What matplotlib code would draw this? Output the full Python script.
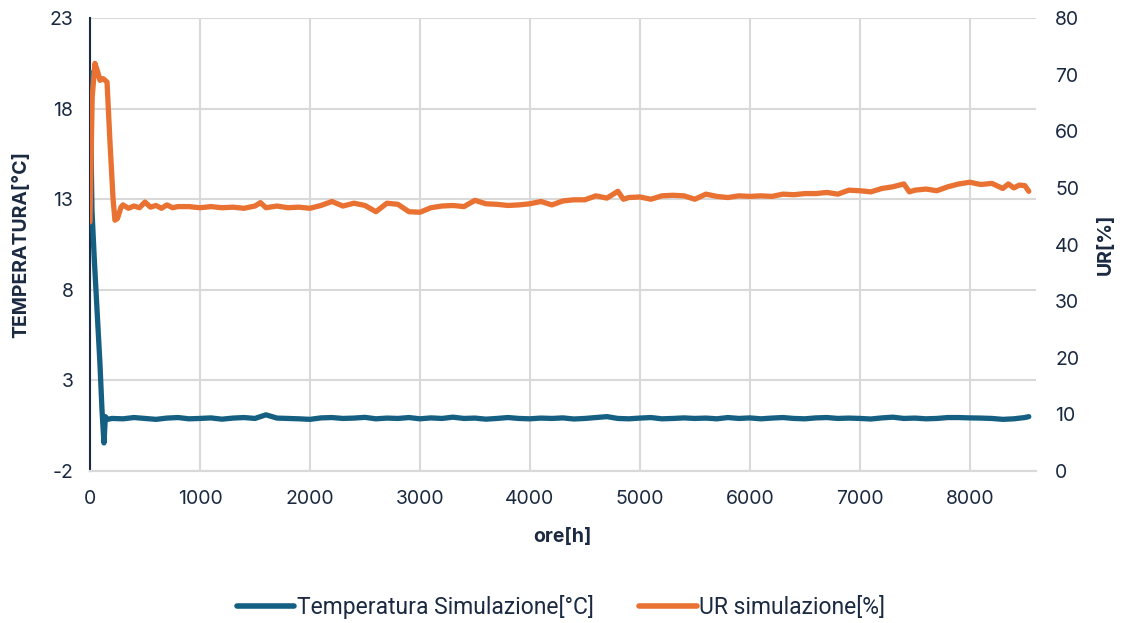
import matplotlib.pyplot as plt
from matplotlib.lines import Line2D

# temperatura simulazione [°C]
hours_temp = [0, 18, 40, 64, 90, 109, 127, 140, 160, 200,
              300, 400, 500, 600, 700, 800, 900, 1000, 1100, 1200,
              1300, 1400, 1500, 1600, 1700, 1800, 1900, 2000, 2100, 2200,
              2300, 2400, 2500, 2600, 2700, 2800, 2900, 3000, 3100, 3200,
              3300, 3400, 3500, 3600, 3700, 3800, 3900, 4000, 4100, 4200,
              4300, 4400, 4500, 4600, 4700, 4800, 4900, 5000, 5100, 5200,
              5300, 5400, 5500, 5600, 5700, 5800, 5900, 6000, 6100, 6200,
              6300, 6400, 6500, 6600, 6700, 6800, 6900, 7000, 7100, 7200,
              7300, 7400, 7500, 7600, 7700, 7800, 7900, 8000, 8100, 8200,
              8300, 8400, 8500, 8536]
temp = [20.0, 12.4, 9.6, 6.9, 4.0, 1.4, -0.45, 1.0, 0.85, 0.9,
        0.88, 0.95, 0.9, 0.85, 0.92, 0.95, 0.88, 0.9, 0.93, 0.86,
        0.92, 0.95, 0.9, 1.1, 0.92, 0.9, 0.88, 0.85, 0.93, 0.95,
        0.9, 0.92, 0.96, 0.88, 0.92, 0.9, 0.95, 0.88, 0.93, 0.9,
        0.97, 0.9, 0.92, 0.86, 0.9, 0.95, 0.9, 0.88, 0.92, 0.9,
        0.93, 0.87, 0.9, 0.95, 1.0, 0.9, 0.88, 0.92, 0.95, 0.88,
        0.9, 0.93, 0.9, 0.92, 0.88, 0.95, 0.9, 0.93, 0.88, 0.92,
        0.95, 0.9, 0.88, 0.93, 0.95, 0.9, 0.92, 0.9, 0.87, 0.93,
        0.97, 0.9, 0.92, 0.88, 0.9, 0.95, 0.95, 0.93, 0.92, 0.9,
        0.85, 0.88, 0.95, 1.0]

# UR simulazione [%]
hours_ur = [0, 20, 45, 70, 91, 120, 155, 182, 210, 227, 250, 282,
            300, 350, 400, 450, 500, 550, 600, 650, 700, 750, 800, 900, 1000, 1100, 1200,
            1300, 1400, 1500, 1550, 1600, 1700, 1800, 1900, 2000, 2100, 2200,
            2300, 2400, 2500, 2600, 2700, 2800, 2900, 3000, 3100, 3200,
            3300, 3400, 3500, 3600, 3700, 3800, 3900, 4000, 4100, 4200,
            4300, 4400, 4500, 4600, 4700, 4800, 4850, 4900, 5000, 5100, 5200,
            5300, 5400, 5500, 5600, 5700, 5800, 5900, 6000, 6100, 6200,
            6300, 6400, 6500, 6600, 6700, 6800, 6900, 7000, 7100, 7200,
            7300, 7400, 7450, 7500, 7600, 7700, 7800, 7900, 8000, 8100, 8200,
            8300, 8350, 8400, 8450, 8500, 8536]
ur = [44.0, 66.0, 72.0, 70.5, 69.0, 69.3, 68.7, 58.0, 48.0, 44.3, 44.6, 46.6,
      47.0, 46.4, 46.8, 46.5, 47.5, 46.6, 46.9, 46.4, 47.0, 46.5, 46.7, 46.7, 46.5, 46.7, 46.5,
      46.6, 46.4, 46.8, 47.4, 46.5, 46.8, 46.5, 46.6, 46.4, 46.9, 47.6,
      46.8, 47.3, 46.9, 45.8, 47.3, 47.1, 45.8, 45.7, 46.5, 46.8,
      46.9, 46.7, 47.8, 47.2, 47.1, 46.9, 47.0, 47.2, 47.6, 47.0,
      47.7, 47.9, 47.9, 48.6, 48.2, 49.4, 48.0, 48.3, 48.4, 48.0, 48.6,
      48.7, 48.6, 48.0, 48.9, 48.5, 48.3, 48.6, 48.5, 48.6, 48.5,
      48.9, 48.8, 49.0, 49.0, 49.2, 48.9, 49.6, 49.5, 49.3, 49.9,
      50.2, 50.7, 49.3, 49.6, 49.8, 49.5, 50.2, 50.7, 51.0, 50.6, 50.8,
      49.9, 50.7, 50.0, 50.5, 50.4, 49.4]

temp_ticks = [-2, 3, 8, 13, 18, 23]
ur_ticks = [0, 10, 20, 30, 40, 50, 60, 70, 80]
hour_ticks = [0, 1000, 2000, 3000, 4000, 5000, 6000, 7000, 8000]

BLUE = '#156082'
ORANGE = '#E97132'
TEXT = '#1b2a41'
GRID = '#d9d9d9'

plt.rcParams['font.family'] = ['Inter', 'DejaVu Sans']
plt.rcParams['axes.unicode_minus'] = False

fig = plt.figure(figsize=(11.22, 6.23), dpi=100)
ax = fig.add_axes([0.0802, 0.244, 0.843, 0.727])
ax2 = ax.twinx()

ax.plot(hours_temp, temp, color=BLUE, lw=3.8, solid_capstyle='round', solid_joinstyle='round', zorder=3)
ax2.plot(hours_ur, ur, color=ORANGE, lw=3.8, solid_capstyle='round', solid_joinstyle='round', zorder=3)

ax.set_xlim(0, 8600)
ax.set_ylim(-2, 23)
ax2.set_ylim(0, 80)
ax.set_xticks(hour_ticks)
ax.set_yticks(temp_ticks)
ax2.set_yticks(ur_ticks)

ax.grid(True, color=GRID, lw=1.5)
ax.set_axisbelow(True)
ax.tick_params(length=0, labelsize=14, colors=TEXT, pad=12)
ax2.tick_params(length=0, labelsize=14, colors=TEXT, pad=14)
ax.tick_params(axis='x', pad=14)

for a in (ax, ax2):
    for s in ('top', 'right'):
        a.spines[s].set_visible(False)
    a.spines['bottom'].set_color(GRID)
    a.spines['bottom'].set_linewidth(1.5)
ax2.spines['left'].set_visible(False)
ax.spines['left'].set_color(TEXT)
ax.spines['left'].set_linewidth(1.5)

ax.set_xlabel('ore[h]', fontsize=14, fontweight='bold', color=TEXT, labelpad=14)
ax.set_ylabel('TEMPERATURA[°C]', fontsize=14, fontweight='bold', color=TEXT, labelpad=14)
ax2.set_ylabel('UR[%]', fontsize=14, fontweight='bold', color=TEXT, labelpad=12)

handles = [Line2D([0], [0], color=BLUE, lw=4, solid_capstyle='round'),
           Line2D([0], [0], color=ORANGE, lw=4, solid_capstyle='round')]
fig.legend(handles, ['Temperatura Simulazione[°C]', 'UR simulazione[%]'],
           loc='center', bbox_to_anchor=(0.5, 1 - 607 / 623), ncol=2, frameon=False,
           prop={'family': ['Roboto', 'DejaVu Sans'], 'size': 16.5},
           handlelength=2.5, handletextpad=0.1, columnspacing=2.0, labelcolor=TEXT)

fig.savefig('out.png', dpi=100)
